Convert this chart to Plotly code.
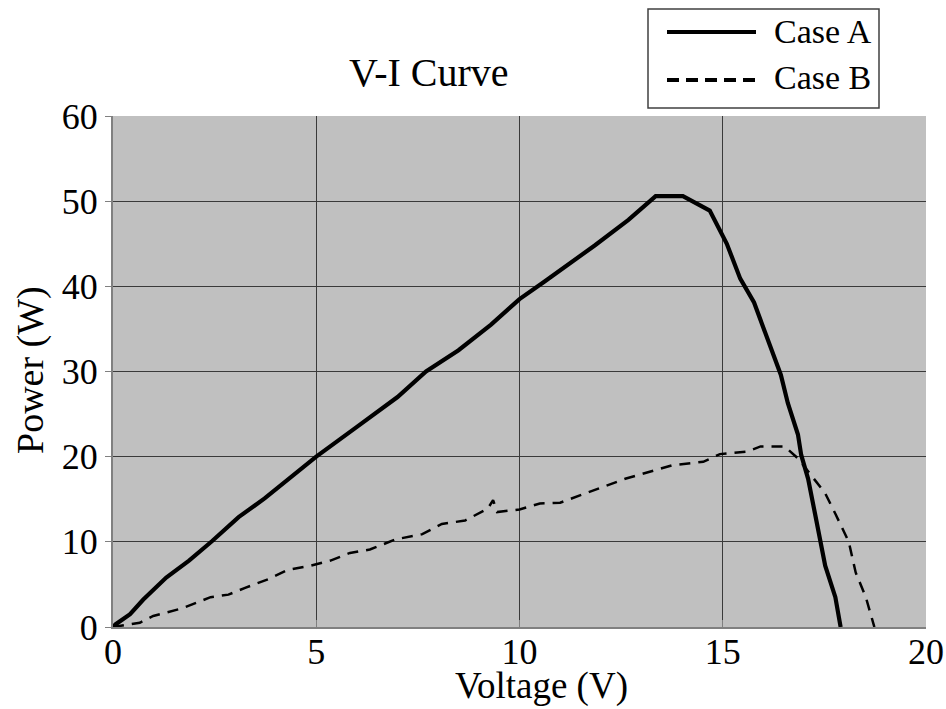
import plotly.graph_objects as go

# ---- data ----
case_a_v = [0.0, 0.06, 0.42, 0.74, 1.31, 1.87, 2.44, 3.09, 3.73, 4.3, 5.0, 6.0, 7.0, 7.7, 8.5,
            9.3, 10.0, 10.6, 11.2, 11.85, 12.68, 13.35, 14.02, 14.68, 15.1, 15.43, 15.77,
            16.1, 16.43, 16.6, 16.85, 16.93, 17.1, 17.27, 17.52, 17.77, 17.9]
case_a_p = [0.0, 0.3, 1.5, 3.2, 5.8, 7.8, 10.1, 12.9, 15.1, 17.3, 20.0, 23.5, 27.0, 30.0, 32.5,
            35.5, 38.5, 40.5, 42.5, 44.8, 47.8, 50.6, 50.6, 48.9, 45.0, 40.9, 38.1,
            34.0, 29.6, 26.3, 22.6, 20.2, 17.4, 13.3, 7.2, 3.5, 0.0]

case_b_v = [0.0, 0.66, 0.99, 1.71, 2.4, 2.84, 3.25, 3.81, 4.3, 4.86, 5.35, 5.83, 6.32, 6.96,
            7.61, 8.09, 8.66, 9.22, 9.35, 9.45, 10.0, 10.5, 11.0, 11.5, 12.1, 12.6, 13.77,
            14.52, 14.93, 15.6, 15.93, 16.52, 16.85, 17.52, 17.77, 18.1, 18.27, 18.52, 18.73]
case_b_p = [0.0, 0.5, 1.3, 2.2, 3.5, 3.8, 4.6, 5.6, 6.7, 7.2, 7.8, 8.7, 9.1, 10.3,
            10.9, 12.1, 12.5, 13.9, 14.9, 13.5, 13.8, 14.5, 14.6, 15.5, 16.5, 17.4, 19.0,
            19.4, 20.3, 20.6, 21.2, 21.2, 19.8, 15.7, 13.3, 10.0, 6.4, 3.5, 0.0]

x_ticks = [0, 5, 10, 15, 20]
y_ticks = [0, 10, 20, 30, 40, 50, 60]
series_names = ["Case A", "Case B"]
title_text = "V-I Curve"
x_title = "Voltage (V)"
y_title = "Power (W)"

# ---- layout geometry (pixels) ----
W, H = 946, 709
L, R, T, B = 113, 926, 116, 627
FONT = "Liberation Serif, Times New Roman, serif"


def pxx(x):
    return (x - L) / (R - L)


def pxy(y):
    return (B - y) / (B - T)


fig = go.Figure()
fig.add_trace(go.Scatter(x=case_a_v, y=case_a_p, mode="lines", name=series_names[0],
                         line=dict(color="black", width=4.2), showlegend=False))
fig.add_trace(go.Scatter(x=case_b_v, y=case_b_p, mode="lines", name=series_names[1],
                         line=dict(color="black", width=2.5, dash="11px,8px"), showlegend=False))

shapes = [
    # legend box
    dict(type="rect", xref="paper", yref="paper",
         x0=pxx(648), x1=pxx(879), y0=pxy(108), y1=pxy(9),
         line=dict(color="#404040", width=1.5), fillcolor="white", layer="above"),
    dict(type="line", xref="paper", yref="paper",
         x0=pxx(667), x1=pxx(756), y0=pxy(32), y1=pxy(32),
         line=dict(color="black", width=4), layer="above"),
    dict(type="line", xref="paper", yref="paper",
         x0=pxx(667), x1=pxx(756), y0=pxy(80), y1=pxy(80),
         line=dict(color="black", width=4, dash="12px,7px"), layer="above"),
]

annotations = [
    dict(text=title_text, xref="paper", yref="paper", x=pxx(429), y=pxy(72),
         xanchor="center", yanchor="middle", showarrow=False,
         font=dict(family=FONT, size=40, color="black")),
    dict(text=series_names[0], xref="paper", yref="paper", x=pxx(772), y=pxy(31),
         xanchor="left", yanchor="middle", showarrow=False,
         font=dict(family=FONT, size=34, color="black")),
    dict(text=series_names[1], xref="paper", yref="paper", x=pxx(772), y=pxy(78),
         xanchor="left", yanchor="middle", showarrow=False,
         font=dict(family=FONT, size=34, color="black")),
    dict(text=x_title, xref="paper", yref="paper", x=pxx(541), y=pxy(708),
         xanchor="center", yanchor="bottom", showarrow=False, borderpad=0,
         font=dict(family=FONT, size=37, color="black")),
    dict(text=y_title, xref="paper", yref="paper", x=pxx(30), y=pxy(370),
         xanchor="center", yanchor="middle", showarrow=False, textangle=-90,
         font=dict(family=FONT, size=38, color="black")),
]

fig.update_layout(
    width=W, height=H, autosize=False,
    margin=dict(l=L, r=W - R, t=T, b=H - B, pad=0, autoexpand=False),
    paper_bgcolor="white",
    plot_bgcolor="#c0c0c0",
    shapes=shapes,
    annotations=annotations,
    font=dict(family=FONT, color="black"),
)
fig.update_xaxes(range=[0, 20], tickvals=x_ticks, ticktext=[str(v) for v in x_ticks],
                 showgrid=True, gridcolor="#3a3a3a", gridwidth=1,
                 showline=True, linecolor="#808080", linewidth=2,
                 ticks="inside", ticklen=7, tickcolor="#808080",
                 ticklabelstandoff=-8,
                 tickfont=dict(family=FONT, size=36, color="black"),
                 zeroline=False, fixedrange=True)
fig.update_yaxes(range=[0, 60], tickvals=y_ticks, ticktext=[str(v) for v in y_ticks],
                 showgrid=True, gridcolor="#3a3a3a", gridwidth=1,
                 showline=True, linecolor="#808080", linewidth=2,
                 ticks="outside", ticklen=6, tickcolor="#808080",
                 tickfont=dict(family=FONT, size=36, color="black"),
                 zeroline=False, fixedrange=True)

fig.write_html("out.html",
               config=dict(displayModeBar=False, responsive=False),
               post_script="document.body.style.margin='0';"
                           "document.body.style.overflow='hidden';")
